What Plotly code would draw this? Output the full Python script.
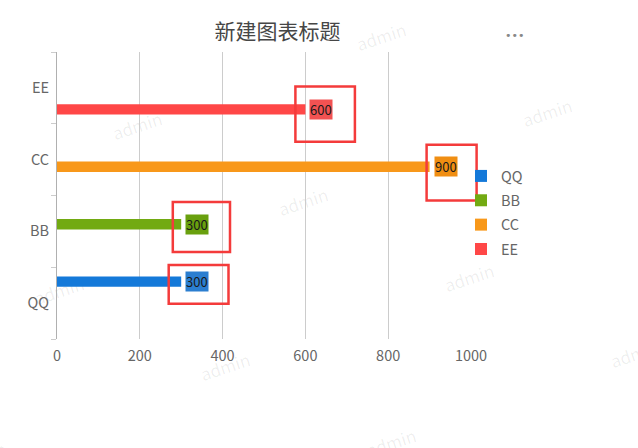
import plotly.graph_objects as go

# data
categories = ['QQ', 'BB', 'CC', 'EE']
values = [300, 300, 900, 600]
bar_colors = ['#1479D9', '#72AA12', '#F8981A', '#FF4747']
label_colors = ['#2B7ED0', '#69A00E', '#F08E12', '#F25252']
x_ticks = [0, 200, 400, 600, 800, 1000]

TITLE = '新建图表标题'
WATERMARK = 'admin'
FONT = 'Noto Sans CJK SC'

W, H = 638, 448
L, R, T, B = 57, 167, 52, 109
PW, PH = W - L - R, H - T - B
X_RANGE = [0, 1000]

BAR_W = 0.145
SLOT = 0.2

# red highlight boxes around the labels (pixel offsets from bar end / bar centre)
boxes = [(-12.5, 47.3, -22.2, 16.5),
         (-8.4, 48.8, -27.7, 22.3),
         (-3.0, 47.0, -33.7, 22.0),
         (-10.0, 49.5, -32.4, 23.0)]


def to_paper(px, py):
    return (px - L) / PW, (H - B - py) / PH


fig = go.Figure()
shapes = []
annotations = []

for i, (cat, val) in enumerate(zip(categories, values)):
    centre = (1.5 - i) * SLOT
    fig.add_bar(
        y=[cat], x=[val], orientation='h', name=cat,
        marker_color=bar_colors[i], marker_line_width=0,
        width=BAR_W, offset=centre - BAR_W / 2,
        legendgroup=cat, hoverinfo='x+name',
    )
    annotations.append(dict(
        x=val, y=i + centre, xref='x', yref='y', text=str(val),
        showarrow=False, xanchor='left', yanchor='middle', xshift=4,
        bgcolor=label_colors[i], borderpad=0,
        font=dict(family=FONT, size=13, color='#1a1a1a'),
    ))
    # paper refs so the box is not clipped at the plot edge
    x0, x1, y0, y1 = boxes[i]
    shapes.append(dict(
        type='rect', xref='paper', yref='paper',
        xsizemode='pixel', ysizemode='pixel',
        xanchor=(val - X_RANGE[0]) / (X_RANGE[1] - X_RANGE[0]),
        yanchor=(i + centre + 0.5) / len(categories),
        x0=x0, x1=x1, y0=y0, y1=y1,
        line=dict(color='#F43B3B', width=2.5),
    ))

# watermark lattice
p0, va, vb = (138, 128), (166, 76), (78, -165)
for m in range(-3, 5):
    for n in range(-3, 4):
        px = p0[0] + m * va[0] + n * vb[0]
        py = p0[1] + m * va[1] + n * vb[1]
        if -60 < px < W + 60 and -20 < py < H + 40:
            xp, yp = to_paper(px, py)
            shapes.append(dict(
                type='rect', xref='paper', yref='paper', layer='below',
                x0=xp - 0.01, x1=xp + 0.01, y0=yp - 0.01, y1=yp + 0.01,
                line_width=0, fillcolor='rgba(0,0,0,0)',
                label=dict(text=WATERMARK, textangle=-18,
                           textposition='middle center',
                           font=dict(family=FONT, size=17,
                                     color='rgba(0,0,0,0.07)')),
            ))

mx, my = to_paper(526, 27)
annotations.append(dict(
    x=mx, y=my, xref='paper', yref='paper', text='•••', showarrow=False,
    font=dict(family='DejaVu Sans', size=11, color='#888'),
))

fig.update_layout(
    width=W, height=H, autosize=False,
    margin=dict(l=L, r=R, t=T, b=B),
    paper_bgcolor='white', plot_bgcolor='rgba(0,0,0,0)',
    font=dict(family=FONT, size=14.5, color='#666'),
    title=dict(text=TITLE, x=277.5 / W, xanchor='center',
               y=1 - 31.7 / H, yanchor='middle',
               font=dict(family=FONT, size=21, color='#464646')),
    barmode='overlay',
    showlegend=True,
    legend=dict(x=to_paper(461, 0)[0], y=to_paper(0, 160)[1],
                xanchor='left', yanchor='top', traceorder='grouped',
                tracegroupgap=2.5, bgcolor='rgba(0,0,0,0)',
                font=dict(family=FONT, size=14.5, color='#666')),
    shapes=shapes,
    annotations=annotations,
)

fig.update_xaxes(
    range=X_RANGE, tickvals=x_ticks, showgrid=True, gridcolor='#cccccc',
    gridwidth=1, zeroline=False, showline=False, ticks='',
    ticklabelstandoff=6, fixedrange=True,
)
fig.update_yaxes(
    type='category', categoryorder='array', categoryarray=categories,
    range=[-0.5, 3.5], tickson='boundaries', ticks='outside', ticklen=5,
    tickcolor='#cccccc', showline=True, linecolor='#b0b0b0', linewidth=1,
    showgrid=False, zeroline=False, fixedrange=True, ticklabelstandoff=4,
)

fig.write_html('out.html', config={'displayModeBar': False},
               post_script="document.body.style.margin = '0px';")
